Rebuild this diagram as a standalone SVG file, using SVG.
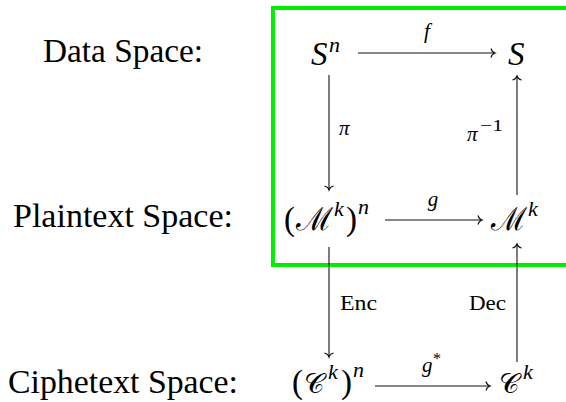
<svg xmlns="http://www.w3.org/2000/svg" width="566" height="402" viewBox="0 0 566 402">
<style>
.lab{font-family:"Liberation Serif",serif;font-size:33px;fill:#000;text-anchor:middle}
.m{font-family:"Liberation Serif",serif;font-style:italic;font-size:33px;fill:#000}
.up{font-family:"Liberation Serif",serif;font-size:33px;fill:#000}
.sup{font-family:"Liberation Serif",serif;font-style:italic;font-size:22px;fill:#000}
.sm{font-family:"Liberation Serif",serif;font-style:italic;font-size:21px;fill:#000}
.smr{font-family:"Liberation Serif",serif;font-size:21px;fill:#000}
.tiny{font-family:"Liberation Serif",serif;font-size:16px;fill:#000}
.cal{font-family:"DejaVu Serif","Noto Sans",serif;font-style:italic;font-size:32px;fill:#000}
.calc{font-family:"DejaVu Serif","Noto Sans",serif;font-size:28px;fill:#000}
.ar{stroke:#111;stroke-width:1.1;fill:none;marker-end:url(#to)}
</style>
<defs>
<marker id="to" markerUnits="userSpaceOnUse" markerWidth="12" markerHeight="12" viewBox="-6 -6 12 12" refX="0" refY="0" orient="auto">
<path d="M-4,-4.5 C-3.3,-1.8 -1.4,-0.4 0,0 C-1.4,0.4 -3.3,1.8 -4,4.5" fill="none" stroke="#111" stroke-width="1.1"/>
</marker>
</defs>
<g id="labels">
<text class="lab" x="123" y="62" textLength="160" lengthAdjust="spacingAndGlyphs">Data Space:</text>
<text class="lab" x="123" y="227" textLength="220" lengthAdjust="spacingAndGlyphs">Plaintext Space:</text>
<text class="lab" x="123" y="393" textLength="230" lengthAdjust="spacingAndGlyphs">Ciphetext Space:</text>
</g>
<g id="box">
<rect x="273" y="8" width="400" height="257" fill="none" stroke="#00ee00" stroke-width="4"/>
</g>
<g id="node-Sn">
<text class="m" x="311" y="65">S</text><text class="sup" x="329" y="52">n</text>
</g>
<g id="node-S">
<text class="m" x="508" y="65">S</text>
</g>
<g id="node-Mkn">
<text class="up" x="284" y="230">(</text><text class="cal" x="296" y="230" textLength="37" lengthAdjust="spacingAndGlyphs">ℳ</text><text class="sup" x="334" y="216">k</text><text class="up" x="346" y="230">)</text><text class="sup" x="358" y="214">n</text>
</g>
<g id="node-Mk">
<text class="cal" x="491" y="230" textLength="36" lengthAdjust="spacingAndGlyphs">ℳ</text><text class="sup" x="528" y="216">k</text>
</g>
<g id="node-Ckn">
<text class="up" x="292" y="393">(</text><text class="calc" x="304" y="393">𝒞</text><text class="sup" x="328" y="379">k</text><text class="up" x="341" y="393">)</text><text class="sup" x="353" y="377">n</text>
</g>
<g id="node-Ck">
<text class="calc" x="499" y="393">𝒞</text><text class="sup" x="523" y="379">k</text>
</g>
<g id="connectors">
<line class="ar" x1="358" y1="53" x2="495" y2="53"/>
<line class="ar" x1="329" y1="75" x2="329" y2="190"/>
<line class="ar" x1="517" y1="195" x2="517" y2="76"/>
<line class="ar" x1="385" y1="220" x2="482" y2="220"/>
<line class="ar" x1="329" y1="247" x2="329" y2="357"/>
<line class="ar" x1="517" y1="362" x2="517" y2="244"/>
<line class="ar" x1="375" y1="386" x2="490" y2="386"/>
<text class="sm" x="427" y="38" text-anchor="middle">f</text>
<text class="sm" x="339" y="135">π</text>
<text class="sm" x="467" y="141">π</text><text class="tiny" x="480" y="131" textLength="23" lengthAdjust="spacingAndGlyphs">−1</text>
<text class="sm" x="433" y="206" text-anchor="middle">g</text>
<text class="smr" x="340" y="310" textLength="37" lengthAdjust="spacingAndGlyphs">Enc</text>
<text class="smr" x="469" y="310" textLength="37" lengthAdjust="spacingAndGlyphs">Dec</text>
<text class="sm" x="422" y="372">g</text><text class="tiny" x="433" y="364">*</text>
</g>
</svg>
